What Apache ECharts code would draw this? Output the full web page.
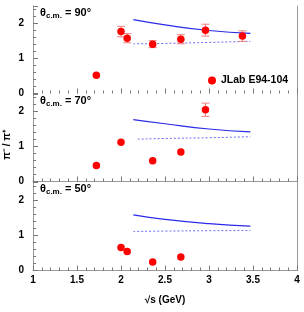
<!DOCTYPE html>
<html><head><meta charset="utf-8">
<script src="https://cdn.jsdelivr.net/npm/echarts@6/dist/echarts.min.js"></script>
<style>html,body{margin:0;padding:0;background:#fff}#c{width:304px;height:312px}</style>
</head><body><div id="c"></div>
<script>
// Panel angles (theta c.m.)
const panelAngles = ['90', '70', '50'];
// Data points: sqrt(s) (GeV), ratio, error
const x90 = [1.72, 2.00, 2.07, 2.36, 2.68, 2.96, 3.38];
const y90 = [0.52, 1.77, 1.58, 1.41, 1.55, 1.81, 1.64];
const e90 = [0.00, 0.15, 0.13, 0.10, 0.13, 0.17, 0.15];
const x70 = [1.72, 2.00, 2.36, 2.68, 2.96];
const y70 = [0.46, 1.12, 0.59, 0.84, 2.05];
const e70 = [0.00, 0.04, 0.00, 0.00, 0.19];
const x50 = [2.00, 2.07, 2.36, 2.68];
const y50 = [0.65, 0.54, 0.24, 0.38];
// Model curves
const curveX = [2.14, 2.5, 3.0, 3.47];
const solid90 = [2.11, 1.96, 1.80, 1.72];
const dash90 = [1.42, 1.43, 1.46, 1.49];
const solid70 = [1.77, 1.65, 1.50, 1.42];
const dashX70 = [2.19, 2.5, 3.0, 3.47];
const dash70 = [1.21, 1.23, 1.25, 1.28];
const solid50 = [1.58, 1.45, 1.33, 1.26];
const dash50 = [1.11, 1.12, 1.13, 1.135];
const xTicks = ['1', '1.5', '2', '2.5', '3', '3.5', '4'];
const yTicks = ['0', '1', '2'];

const panels = [
  {xs: x90, ys: y90, es: e90, solid: solid90, dashX: curveX, dash: dash90},
  {xs: x70, ys: y70, es: e70, solid: solid70, dashX: dashX70, dash: dash70},
  {xs: x50, ys: y50, es: x50.map(() => 0), solid: solid50, dashX: curveX, dash: dash50}
];

const chart = echarts.init(document.getElementById('c'), null, {renderer: 'canvas'});
const font = 'Liberation Sans, Arial, sans-serif';
const grids = [
  {left: 33, right: 7, top: 6, height: 87.5},
  {left: 33, right: 7, top: 94, height: 87.5},
  {left: 33, right: 7, top: 182.5, height: 88}
];
const xAxes = [], yAxes = [], series = [];
grids.forEach((g, i) => {
  const bottom = i === 2;
  xAxes.push({
    type: 'value', gridIndex: i, min: 1, max: 4, interval: 0.5,
    axisLine: {show: i > 0, onZero: false, lineStyle: {color: '#999', width: 1}},
    axisTick: {show: true, inside: true, length: 5, lineStyle: {color: '#777'}},
    minorTick: {show: true, splitNumber: 5, length: 3, lineStyle: {color: '#777'}},
    splitLine: {show: false},
    axisLabel: {show: bottom, color: '#000', fontFamily: font, fontWeight: 'bold', fontSize: 10, margin: 5,
      formatter: v => xTicks.includes(String(v)) ? String(v) : ''},
    name: bottom ? '√s (GeV)' : '', nameLocation: 'middle', nameGap: 25,
    nameTextStyle: {color: '#000', fontFamily: font, fontWeight: 'bold', fontSize: 10}
  });
  yAxes.push({
    type: 'value', gridIndex: i, min: 0, max: 2.5, interval: 1,
    axisLine: {show: true, onZero: false, lineStyle: {color: '#999', width: 1}},
    axisTick: {show: true, inside: true, length: 5, lineStyle: {color: '#777'}},
    minorTick: {show: true, splitNumber: 5, length: 3, lineStyle: {color: '#777'}},
    splitLine: {show: false},
    axisLabel: {color: '#000', fontFamily: font, fontWeight: 'bold', fontSize: 10, margin: 9, showMaxLabel: false,
      formatter: v => yTicks.includes(String(v)) ? String(v) : ''}
  });
  yAxes.push({
    type: 'value', gridIndex: i, min: 0, max: 2.5, position: 'right',
    axisLine: {show: true, onZero: false, lineStyle: {color: '#999', width: 1}},
    axisTick: {show: false}, axisLabel: {show: false}, splitLine: {show: false}
  });
});

panels.forEach((p, i) => {
  const yi = i * 2;
  series.push({
    type: 'line', xAxisIndex: i, yAxisIndex: yi, data: curveX.map((x, k) => [x, p.solid[k]]),
    smooth: true, showSymbol: false, lineStyle: {color: '#2a2ae8', width: 1.2}, silent: true, z: 2
  });
  series.push({
    type: 'line', xAxisIndex: i, yAxisIndex: yi, data: p.dashX.map((x, k) => [x, p.dash[k]]),
    smooth: true, showSymbol: false, lineStyle: {color: '#6b6bf5', width: 1, type: [2, 2]}, silent: true, z: 2
  });
  series.push({
    type: 'custom', xAxisIndex: i, yAxisIndex: yi,
    data: p.xs.map((x, k) => [x, p.ys[k], p.es[k]]).filter(d => d[2] > 0.05),
    renderItem: (params, api) => {
      const x = api.value(0), y = api.value(1), e = api.value(2);
      const hi = api.coord([x, y + e]), lo = api.coord([x, y - e]);
      const st = {stroke: '#f08080', lineWidth: 1};
      return {type: 'group', children: [
        {type: 'line', shape: {x1: hi[0], y1: hi[1], x2: lo[0], y2: lo[1]}, style: st},
        {type: 'line', shape: {x1: hi[0] - 4, y1: hi[1], x2: hi[0] + 4, y2: hi[1]}, style: st},
        {type: 'line', shape: {x1: lo[0] - 4, y1: lo[1], x2: lo[0] + 4, y2: lo[1]}, style: st}
      ]};
    }, z: 3, silent: true
  });
  series.push({
    type: 'scatter', name: 'JLab E94-104', xAxisIndex: i, yAxisIndex: yi,
    data: p.xs.map((x, k) => [x, p.ys[k]]), symbol: 'circle', symbolSize: 7.5,
    itemStyle: {color: '#ff0000', opacity: 1}, z: 4
  });
});

const titles = panelAngles.map((a, i) => ({
  type: 'text', left: 40, top: grids[i].top + 1,
  style: {
    text: '{t|θ}{s|c.m.}{t| = ' + a + '°}',
    rich: {
      t: {fontFamily: font, fontSize: 11, fontWeight: 'bold', fill: '#000'},
      s: {fontFamily: font, fontSize: 8, fontWeight: 'bold', fill: '#000', padding: [6, 0, 0, 0]}
    }
  }
}));

chart.setOption({
  animation: false,
  grid: grids,
  xAxis: xAxes,
  yAxis: yAxes,
  series: series,
  legend: {
    data: [{name: 'JLab E94-104', icon: 'circle', itemStyle: {opacity: 1}}], left: 203, top: 70,
    itemWidth: 8, itemHeight: 8, itemGap: 4,
    textStyle: {fontFamily: font, fontWeight: 'bold', fontSize: 10.5, color: '#000'}
  },
  graphic: titles.concat([{
    type: 'text', left: 2, top: 130, rotation: Math.PI / 2,
    style: {text: 'π⁻ / π⁺', fontFamily: font, fontSize: 10, fontWeight: 'bold', fill: '#000'}
  }])
});
</script></body></html>
